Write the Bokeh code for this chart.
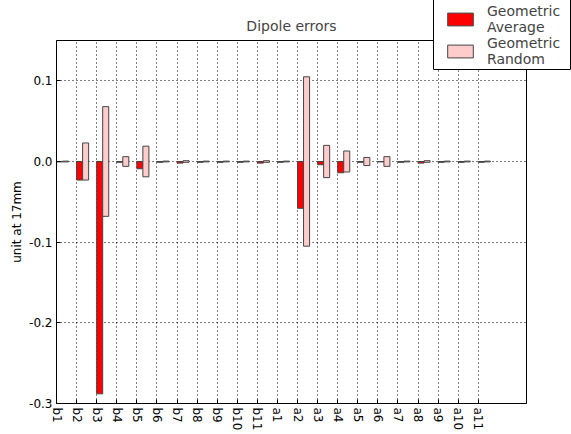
from bokeh.plotting import figure
from bokeh.layouts import column
from bokeh.models import ColumnDataSource, Range1d, FixedTicker, PrintfTickFormatter, Legend, LegendItem
from bokeh.transform import dodge
from bokeh.embed import file_html
from bokeh.resources import INLINE

categories = ["b1", "b2", "b3", "b4", "b5", "b6", "b7", "b8", "b9", "b10", "b11",
              "a1", "a2", "a3", "a4", "a5", "a6", "a7", "a8", "a9", "a10", "a11"]
geom_average = [-0.0005, -0.023, -0.288, -0.001, -0.009, -0.001, -0.002, -0.001, -0.001, -0.001, -0.002,
                -0.001, -0.058, -0.004, -0.014, -0.001, -0.0005, -0.001, -0.002, -0.001, -0.001, -0.001]
geom_random = [0.0005, 0.023, 0.068, 0.006, 0.019, 0.0005, 0.001, 0.0005, 0.0005, 0.0005, 0.001,
               0.0005, 0.105, 0.020, 0.013, 0.005, 0.006, 0.0005, 0.001, 0.0005, 0.0005, 0.0005]
y_ticks = [-0.3, -0.2, -0.1, 0.0, 0.1]
series_labels = ["Geometric\nAverage", "Geometric\nRandom"]
series_colors = ["#ff0000", "#ffcccc"]

idx = list(range(len(categories)))
src = ColumnDataSource(dict(
    idx=idx,
    avg=geom_average,
    zero=[0.0] * len(idx),
    rtop=geom_random,
    rbot=[-v for v in geom_random],
))

FONT = "DejaVu Sans"
EDGE = "#444444"
BL, BR, BT, BB = 56, 45, 40, 31


def add_bars(fig):
    ra = fig.vbar(x=dodge("idx", 0.15), width=0.3, top="zero", bottom="avg", source=src,
                  fill_color=series_colors[0], line_color=EDGE, line_width=1)
    rr = fig.vbar(x=dodge("idx", 0.45), width=0.3, top="rtop", bottom="rbot", source=src,
                  fill_color=series_colors[1], line_color=EDGE, line_width=1)
    return [ra, rr]


p = figure(width=571, height=434, output_backend="svg", toolbar_location=None,
           x_range=Range1d(0, 23.4), y_range=Range1d(-0.3, 0.15),
           min_border_left=BL, min_border_right=BR, min_border_top=BT, min_border_bottom=BB)
add_bars(p)

p.title.text = "Dipole errors"
p.title.align = "center"
p.title.text_font = FONT
p.title.text_font_size = "14px"
p.title.text_font_style = "normal"
p.title.standoff = 14

p.outline_line_color = "black"
p.outline_line_alpha = 1
p.outline_line_width = 1
p.background_fill_color = "white"
p.border_fill_color = "white"

p.xaxis.ticker = FixedTicker(ticks=idx)
p.xaxis.major_label_overrides = {i: c for i, c in zip(idx, categories)}
p.xaxis.major_label_orientation = "vertical"
p.yaxis.ticker = FixedTicker(ticks=y_ticks)
p.yaxis.formatter = PrintfTickFormatter(format="%.1f")
p.yaxis.axis_label = "unit at 17mm"

for ax in (p.xaxis, p.yaxis):
    ax.major_tick_in = 4
    ax.major_tick_out = 0
    ax.minor_tick_line_color = None
    ax.axis_line_color = "black"
    ax.major_tick_line_color = "black"
    ax.major_label_text_font = FONT
    ax.major_label_text_font_size = "12px"
    ax.major_label_text_color = "black"
    ax.major_label_standoff = 4
    ax.axis_label_text_font = FONT
    ax.axis_label_text_font_size = "12px"
    ax.axis_label_text_font_style = "normal"
    ax.axis_label_text_color = "black"
p.yaxis.axis_label_standoff = 2

for g in (p.xgrid, p.ygrid):
    g.grid_line_color = "black"
    g.grid_line_dash = "1 3"
    g.grid_line_width = 1

# Legend box over the top-right corner, outside the plot frame.
# The column aligns frame borders horizontally, so this figure gets the same
# left/right borders as the main plot; its border area is left transparent.
LW, LH = 137, 80
lf = figure(width=BL + LW + BR, height=LH, output_backend="svg", toolbar_location=None,
            x_range=Range1d(-10, -9), y_range=Range1d(-10, -9),
            x_axis_location=None, y_axis_location=None,
            min_border_left=BL, min_border_right=BR, min_border_top=0, min_border_bottom=0,
            styles={"position": "absolute", "left": f"{433 - BL}px", "top": "-10px", "z-index": "10"})
lf.xgrid.visible = False
lf.ygrid.visible = False
lf.outline_line_color = "black"
lf.outline_line_alpha = 1
lf.outline_line_width = 1
lf.background_fill_color = "white"
lf.border_fill_alpha = 0
rends = add_bars(lf)
items = [LegendItem(label=lab, renderers=[r]) for lab, r in zip(series_labels, rends)]

legend = Legend(items=items, location=(11, 3))
legend.label_text_font = FONT
legend.label_text_font_size = "14px"
legend.label_text_line_height = 0.95
legend.glyph_width = 32
legend.glyph_height = 16
legend.label_standoff = 11
legend.padding = 10
legend.spacing = 0
legend.margin = 0
legend.border_line_color = None
legend.background_fill_alpha = 0
lf.add_layout(legend)

layout = column(p, lf)
open("out.html", "w").write(file_html(layout, INLINE))
